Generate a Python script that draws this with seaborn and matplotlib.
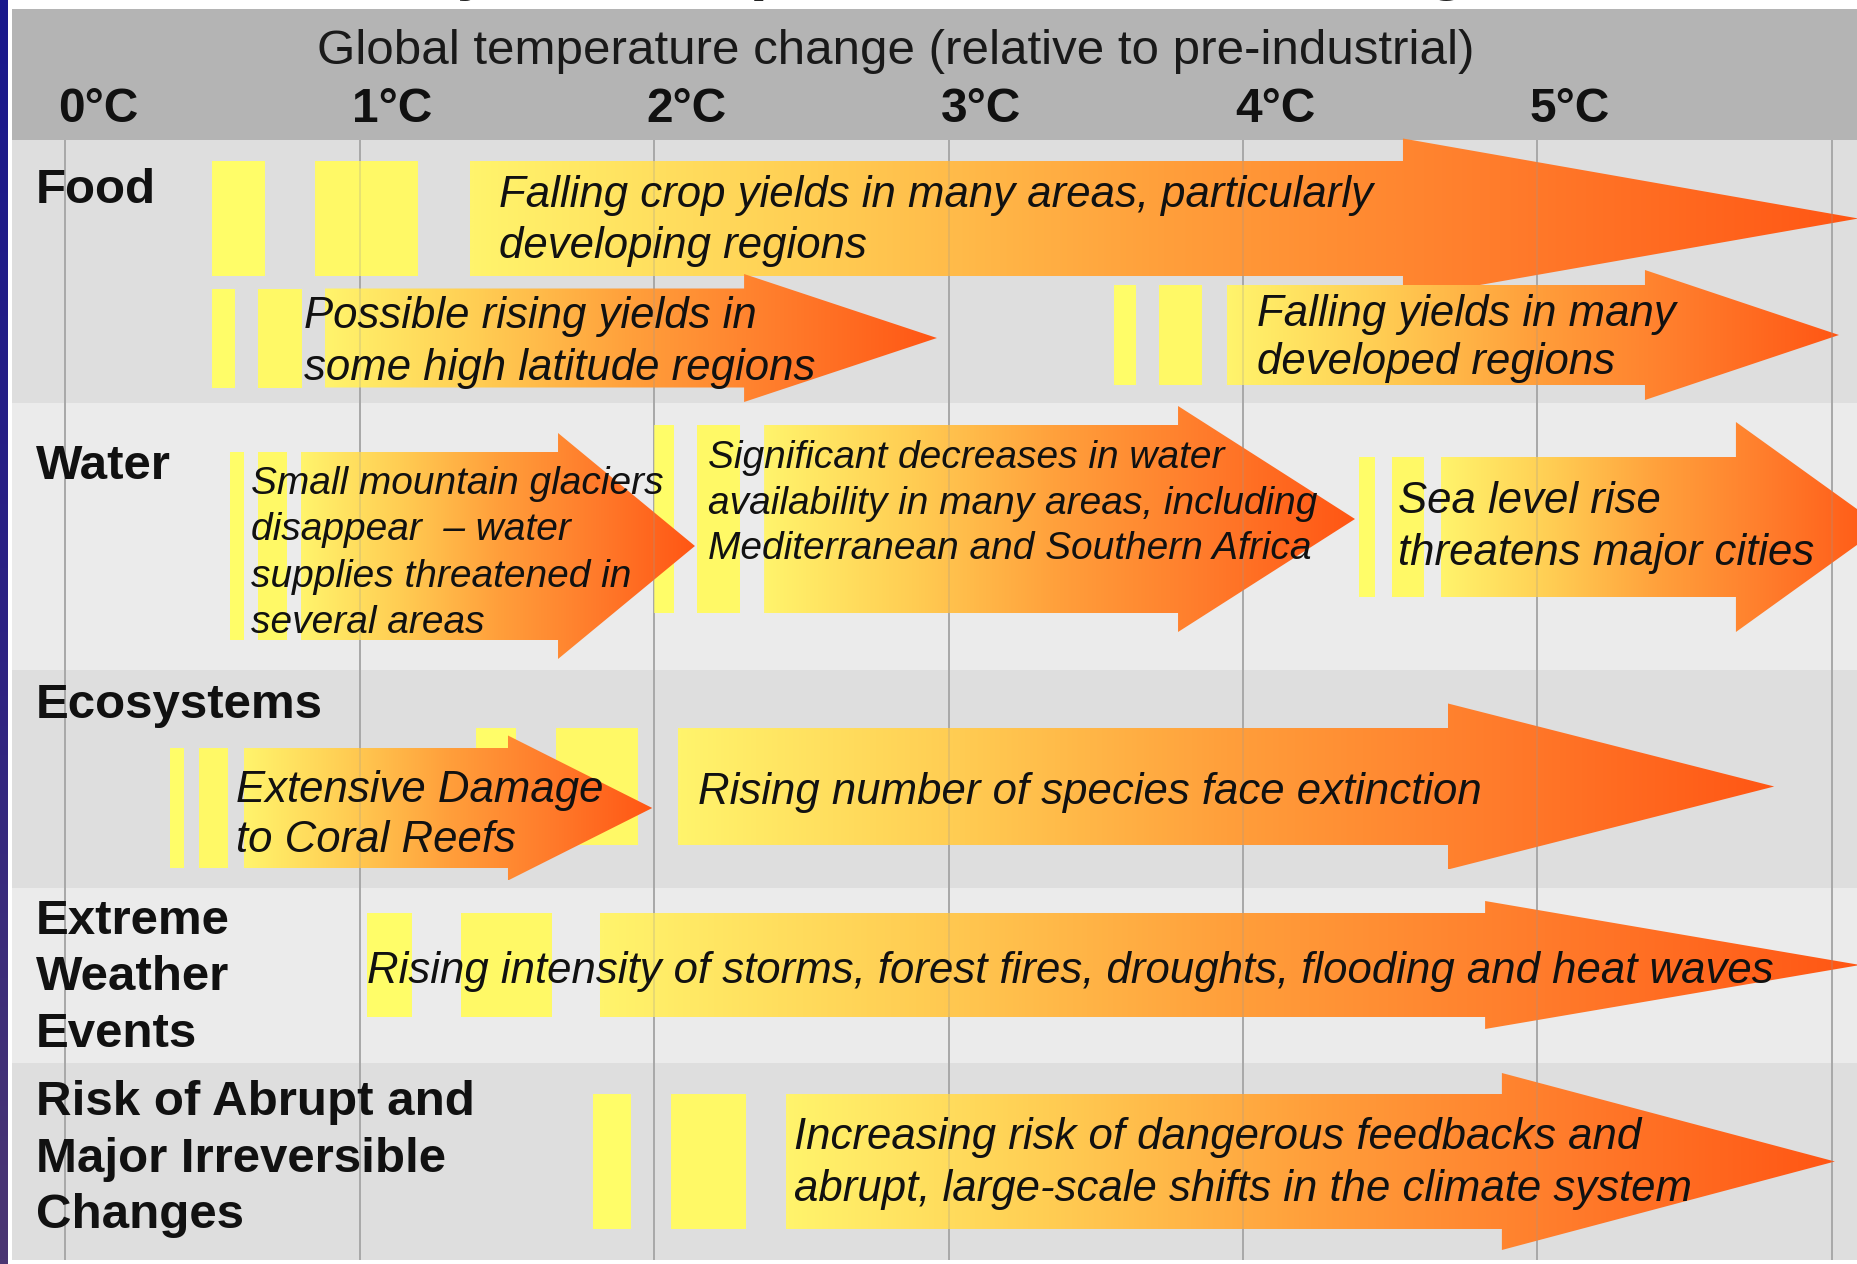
import numpy as np
import matplotlib
matplotlib.use("Agg")
import matplotlib.pyplot as plt
from matplotlib.patches import Polygon, Rectangle
import seaborn as sns

sns.set_theme(style="white")
plt.rcParams['font.family'] = ['Liberation Sans', 'DejaVu Sans']

# ---------------- data ----------------
slide_title = "Projected impacts of climate change"
axis_title = "Global temperature change (relative to pre-industrial)"
tick_temps = [0, 1, 2, 3, 4, 5]
tick_labels = ["0°C", "1°C", "2°C", "3°C", "4°C", "5°C"]
grid_temps = [0, 1, 2, 3, 4, 5, 6]

row_names = ["Food", "Water", "Ecosystems", "Extreme\nWeather\nEvents",
             "Risk of Abrupt and\nMajor Irreversible\nChanges"]
row_top = [140, 403, 670, 888, 1063]
row_bottom = [403, 670, 888, 1063, 1260]
row_shade = ["#dedede", "#ebebeb", "#dedede", "#ebebeb", "#dedede"]
row_label_base = [203, 479, 718, 934, 1115]

impact_lines = [
    ["Falling crop yields in many areas, particularly", "developing regions"],
    ["Possible rising yields in", "some high latitude regions"],
    ["Falling yields in many", "developed regions"],
    ["Small mountain glaciers", "disappear  \u2013 water", "supplies threatened in", "several areas"],
    ["Significant decreases in water", "availability in many areas, including",
     "Mediterranean and Southern Africa"],
    ["Sea level rise", "threatens major cities"],
    ["Rising number of species face extinction"],
    ["Extensive Damage", "to Coral Reefs"],
    ["Rising intensity of storms, forest fires, droughts, flooding and heat waves"],
    ["Increasing risk of dangerous feedbacks and",
     "abrupt, large-scale shifts in the climate system"],
]
bar1_from = [0.498, 0.498, 3.561, 0.559, 1.999, 4.394, 1.394, 0.355, 1.024, 1.792]
bar1_to = [0.678, 0.576, 3.636, 0.606, 2.067, 4.448, 1.530, 0.403, 1.177, 1.921]
bar2_from = [0.848, 0.654, 3.714, 0.654, 2.145, 4.506, 1.666, 0.453, 1.343, 2.057]
bar2_to = [1.197, 0.803, 3.860, 0.753, 2.291, 4.614, 1.945, 0.552, 1.653, 2.312]
arrow_from = [1.374, 0.881, 3.945, 0.800, 2.373, 4.672, 2.080, 0.606, 1.815, 2.447]
head_from = [4.543, 2.305, 5.365, 1.673, 3.779, 5.674, 4.696, 1.503, 4.822, 4.879]
arrow_tip = [6.090, 2.960, 6.024, 2.138, 4.380, 6.170, 5.804, 1.993, 6.096, 6.010]
arrow_mid = [218.5, 338, 335, 546, 519, 527, 786.5, 808, 965, 1161.5]
body_half = [57.5, 49.5, 50, 94, 94, 70, 58.5, 60, 52, 67.5]
head_half = [80, 64, 65, 113, 113, 105, 83, 72.5, 64, 88.5]
text_from = [1.472, 0.810, 4.047, 0.630, 2.182, 4.526, 2.148, 0.579, 1.024, 2.475]
text_base = [207, 328, 326, 494, 468, 513, 804, 802, 983, 1149]
text_gap = [51, 52, 48, 46.3, 45.5, 52, 0, 50, 0, 52]
text_size = [31.5, 31.5, 31.5, 28, 28, 31.5, 31.5, 31.5, 31.5, 31.5]

# ---------------- layout ----------------
W, H = 1858, 1264
X0_PX, DEG_PX = 65.5, 294.4


def px2t(px):
    return (px - X0_PX) / DEG_PX


fig = plt.figure(figsize=(W / 100, H / 100), dpi=100)
fig.patch.set_facecolor("white")
ax = fig.add_axes([0, 0, 1, 1])
ax.set_axis_off()
xmin, xmax = px2t(0), px2t(W)

arrow_cmap = sns.blend_palette(["#fff46c", "#ffcd53", "#ff9f3b", "#ff7b2b", "#ff5614"], as_cmap=True)
strip_cmap = sns.blend_palette(["#19188c", "#2c2283", "#4b3672"], as_cmap=True)

# left dark strip
ax.imshow(np.linspace(0, 1, 256).reshape(-1, 1), cmap=strip_cmap, aspect="auto",
          extent=(xmin, px2t(8), H, 0), zorder=0)

band_x0 = px2t(12)
# header band
ax.add_patch(Rectangle((band_x0, 9), xmax - band_x0, 131, facecolor="#b4b4b4",
                       edgecolor="none", zorder=1))
# row bands
for top, bot, shade in zip(row_top, row_bottom, row_shade):
    ax.add_patch(Rectangle((band_x0, top), xmax - band_x0, bot - top,
                           facecolor=shade, edgecolor="none", zorder=1))

# grid lines (under arrows)
ax.vlines(grid_temps, 140, 1260, colors="#a9a9a9", lw=1.3, zorder=2)

# slide title remnant: only the descenders peek in at the very top
ax.text(px2t(350), -13, slide_title, fontsize=48, fontweight="bold", color="#222222",
        ha="left", va="baseline", clip_on=False, zorder=1)

# header texts
ax.text(px2t(896), 64, axis_title, fontsize=35.5, color="#1a1a1a", ha="center",
        va="baseline", zorder=5)
for t, lab in zip(tick_temps, tick_labels):
    ax.text(t + 0.11, 122, lab, fontsize=34.5, fontweight="bold", color="#111111",
            ha="center", va="baseline", zorder=5)

# row labels
for name, base in zip(row_names, row_label_base):
    for i, line in enumerate(name.split("\n")):
        ax.text(px2t(36), base + i * 56.5, line, fontsize=35.5, fontweight="bold",
                color="#111111", ha="left", va="baseline", zorder=5)

# yellow onset bars (below all arrows)
for k in range(len(impact_lines)):
    yc, bh = arrow_mid[k], body_half[k]
    for a, b, col in ((bar1_from[k], bar1_to[k], "#fffd68"), (bar2_from[k], bar2_to[k], "#fff966")):
        ax.add_patch(Rectangle((a, yc - bh), b - a, 2 * bh, facecolor=col,
                               edgecolor="none", zorder=2.5))

# impact arrows
grad = np.linspace(0, 1, 512).reshape(1, -1)
for k in range(len(impact_lines)):
    yc, bh, hh = arrow_mid[k], body_half[k], head_half[k]
    verts = [(arrow_from[k], yc - bh), (head_from[k], yc - bh), (head_from[k], yc - hh),
             (arrow_tip[k], yc), (head_from[k], yc + hh), (head_from[k], yc + bh),
             (arrow_from[k], yc + bh)]
    poly = Polygon(verts, closed=True, facecolor="none", edgecolor="none", zorder=3 + k * 0.1)
    ax.add_patch(poly)
    im = ax.imshow(grad, cmap=arrow_cmap, aspect="auto", interpolation="bilinear",
                   extent=(arrow_from[k], arrow_tip[k], yc + hh, yc - hh),
                   zorder=3.05 + k * 0.1)
    im.set_clip_path(poly)

# faint grid lines over arrows
ax.vlines(grid_temps, 140, 1260, colors="#999999", lw=1.1, alpha=0.3, zorder=4.5)

# impact texts
for k, lines in enumerate(impact_lines):
    for i, line in enumerate(lines):
        ax.text(text_from[k], text_base[k] + i * text_gap[k], line, fontsize=text_size[k],
                style="italic", color="#111111", ha="left", va="baseline", zorder=6)

ax.set_xlim(xmin, xmax)
ax.set_ylim(H, 0)
fig.savefig("out.png", dpi=100, facecolor="white")
